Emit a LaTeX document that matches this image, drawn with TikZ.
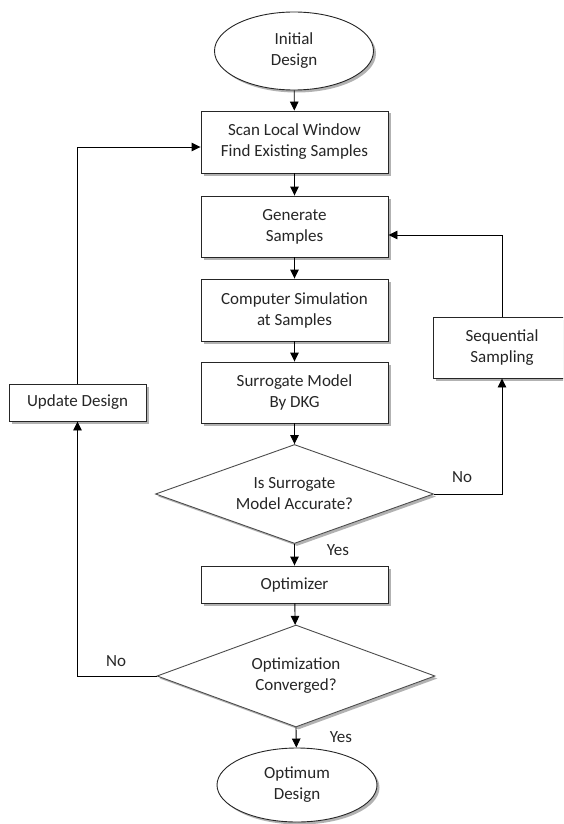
\documentclass[tikz,border=0pt]{standalone}
\usepackage{fontspec}
\setmainfont{Carlito}
\usetikzlibrary{shapes.geometric,arrows.meta,shadows}

\tikzset{
  shade3d/.style={drop shadow={shadow xshift=2.5pt, shadow yshift=-2.5pt, fill=black!55, opacity=0.55}},
  base/.style={draw=black!85, line width=0.9pt, fill=white, shade3d, inner sep=0pt,
    align=center, text=black!85, font=\fontsize{17}{21}\selectfont},
  procbox/.style={base, rectangle, minimum width=187pt},
  terminal/.style={base, ellipse},
  decision/.style={base, diamond, draw=black!70, shape aspect=2.8, minimum width=278pt},
  flow/.style={draw=black, line width=0.9pt, -{Triangle[length=9pt,width=8.5pt]}},
  tag/.style={text=black!85, font=\fontsize{17}{21}\selectfont, inner sep=0pt},
}

\begin{document}
\begin{tikzpicture}[x=1pt, y=-1pt]
  \clip (0,0) rectangle (563,824);
  \useasboundingbox (0,0) rectangle (563,824);

  % main column
  \node[terminal, minimum width=159pt, minimum height=78pt] (init) at (294,51) {Initial\\Design};
  \node[procbox, minimum height=62pt] (scan) at (294.5,142) {Scan Local Window\\Find Existing Samples};
  \node[procbox, minimum height=61pt] (gen) at (294.5,226.5) {Generate\\Samples};
  \node[procbox, minimum height=62pt] (sim) at (294.5,310) {Computer Simulation\\at Samples};
  \node[procbox, minimum height=61pt] (sur) at (294.5,392.5) {Surrogate Model\\By DKG};
  \node[decision, minimum height=99pt] (acc) at (294.5,494) {Is Surrogate\\Model Accurate?};
  \node[procbox, minimum height=37pt] (opt) at (294.5,584.5) {Optimizer};
  \node[decision, minimum height=102pt] (conv) at (296,676) {Optimization\\Converged?};
  \node[terminal, minimum width=160pt, minimum height=74pt] (final) at (297,785) {Optimum\\Design};

  % side loops
  \node[procbox, minimum width=138pt, minimum height=61pt] (seq) at (502,347.5) {Sequential\\Sampling};
  \node[procbox, minimum width=137pt, minimum height=37pt] (upd) at (77.5,402.5) {Update Design};

  % main flow
  \draw[flow] (init) -- (scan);
  \draw[flow] (scan) -- (gen);
  \draw[flow] (gen) -- (sim);
  \draw[flow] (sim) -- (sur);
  \draw[flow] (sur) -- (acc);
  \draw[flow] (acc) -- (opt);
  \draw[flow] (opt) -- (conv);
  \draw[flow] (conv.south) -- (final);

  % resampling loop
  \draw[flow] (acc.east) -| (seq.south);
  \draw[flow] (seq.north) |- ([yshift=-8.5pt]gen.east);

  % design update loop
  \draw[flow] (conv.west) -| (upd.south);
  \draw[flow] (upd.north) |- ([yshift=-5pt]scan.west);

  % branch labels
  \node[tag] (no1) at (462,477) {No};
  \node[tag] (yes1) at (338,550) {Yes};
  \node[tag] (no2) at (116,661) {No};
  \node[tag] (yes2) at (341,737) {Yes};
\end{tikzpicture}
\end{document}
